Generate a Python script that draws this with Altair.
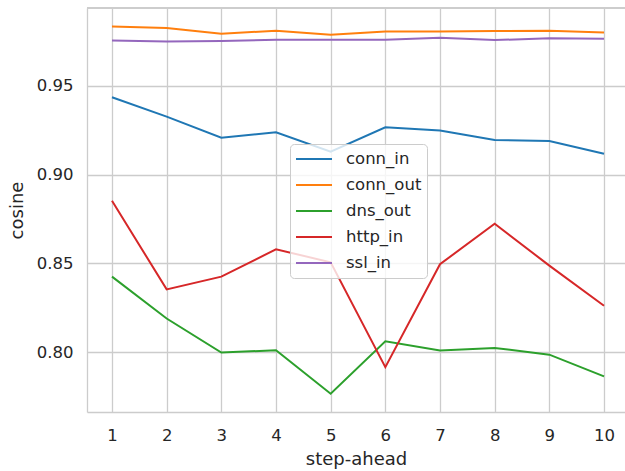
import altair as alt
import pandas as pd

# Forecast horizon (steps ahead) and cosine similarity per traffic type
steps = [1, 2, 3, 4, 5, 6, 7, 8, 9, 10]
conn_in = [0.9436, 0.9327, 0.9208, 0.9238, 0.9129, 0.9267, 0.9248, 0.9195, 0.9189, 0.9118]
conn_out = [0.9835, 0.9826, 0.9794, 0.9811, 0.9788, 0.9807, 0.9807, 0.9809, 0.9811, 0.9801]
dns_out = [0.8425, 0.8189, 0.7997, 0.8010, 0.7765, 0.8060, 0.8008, 0.8023, 0.7985, 0.7863]
http_in = [0.8853, 0.8353, 0.8425, 0.8579, 0.8506, 0.7915, 0.8495, 0.8723, 0.8487, 0.8261]
ssl_in = [0.9756, 0.9750, 0.9753, 0.9760, 0.9760, 0.9760, 0.9771, 0.9758, 0.9769, 0.9766]

series_names = ["conn_in", "conn_out", "dns_out", "http_in", "ssl_in"]
series_values = [conn_in, conn_out, dns_out, http_in, ssl_in]
palette = ["#1f77b4", "#ff7f0e", "#2ca02c", "#d62728", "#9467bd"]

y_ticks = [0.80, 0.85, 0.90, 0.95]

rows = []
for name, vals in zip(series_names, series_values):
    for s, v in zip(steps, vals):
        rows.append({"step": s, "cosine": v, "series": name})
df = pd.DataFrame(rows)

W, H = 538, 404
FONT = "DejaVu Sans"
TEXT = "#262626"
GRID = "#cccccc"

lines = alt.Chart(df).mark_line(strokeWidth=2, clip=True).encode(
    x=alt.X("step:Q", title="step-ahead",
            scale=alt.Scale(domain=[0.543, 10.384], nice=False, zero=False),
            axis=alt.Axis(values=steps, format="d", grid=True, tickSize=0,
                          labelPadding=15, titlePadding=7, domain=True)),
    y=alt.Y("cosine:Q", title="cosine",
            scale=alt.Scale(domain=[0.7662, 0.9939], nice=False, zero=False),
            axis=alt.Axis(values=y_ticks, format=".2f", grid=True, tickSize=0,
                          labelPadding=14, titlePadding=10, domain=True)),
    color=alt.Color("series:N", scale=alt.Scale(domain=series_names, range=palette),
                    legend=alt.Legend(orient="none", legendX=203, legendY=136, title=None,
                                      symbolType="stroke", symbolSize=1296,
                                      symbolStrokeWidth=2, labelFontSize=16.5,
                                      labelFont=FONT, labelColor=TEXT,
                                      fillColor="rgba(255,255,255,0.8)",
                                      strokeColor=GRID, cornerRadius=4,
                                      padding=5, clipHeight=20, rowPadding=6,
                                      labelOffset=13)),
)

# top edge of the frame
top_edge = alt.Chart(df).mark_rule(color=GRID, strokeWidth=1.3).encode(
    x=alt.value(0), x2=alt.value(W), y=alt.value(0)
)

chart = alt.layer(lines, top_edge).properties(
    width=W, height=H,
    autosize=alt.AutoSizeParams(type="none"),
    padding={"left": 87, "top": 8, "right": 0, "bottom": 59},
).configure_view(stroke=None).configure_axis(
    labelFont=FONT, titleFont=FONT, labelFontSize=16.5, titleFontSize=18,
    labelColor=TEXT, titleColor=TEXT, titleFontWeight="normal",
    gridColor=GRID, gridWidth=1.3, domainColor=GRID, domainWidth=1.3,
)

chart.save("out.html", embed_options={"renderer": "svg", "actions": False})
